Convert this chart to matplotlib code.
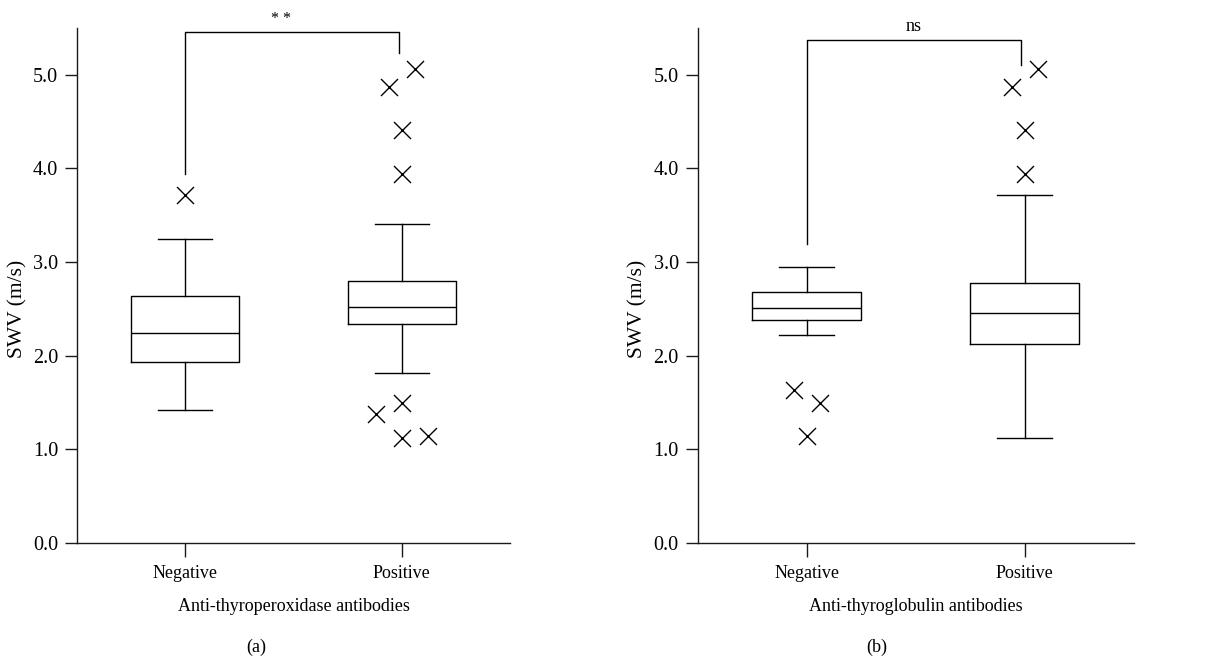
import matplotlib
matplotlib.use("Agg")
import matplotlib.pyplot as plt

plt.rcParams["font.family"] = ["Liberation Serif", "DejaVu Serif"]
plt.rcParams["font.size"] = 13

categories = ["Negative", "Positive"]

# panel (a): anti-thyroperoxidase antibodies
tpo_med = [2.24, 2.52]
tpo_q1 = [1.93, 2.34]
tpo_q3 = [2.64, 2.80]
tpo_whislo = [1.42, 1.81]
tpo_whishi = [3.25, 3.41]
tpo_out_x = [0, 1, 1, 1, 1, 1, 1, 1, 1]
tpo_out_dx = [0.0, 0.06, -0.06, 0.0, 0.0, -0.12, 0.0, 0.0, 0.12]
tpo_out_y = [3.72, 5.06, 4.87, 4.41, 3.94, 1.38, 1.49, 1.12, 1.14]

# panel (b): anti-thyroglobulin antibodies
tg_med = [2.51, 2.45]
tg_q1 = [2.38, 2.12]
tg_q3 = [2.68, 2.78]
tg_whislo = [2.22, 1.12]
tg_whishi = [2.95, 3.72]
tg_out_x = [0, 0, 0, 1, 1, 1, 1]
tg_out_dx = [-0.06, 0.06, 0.0, 0.06, -0.06, 0.0, 0.0]
tg_out_y = [1.63, 1.49, 1.14, 5.06, 4.87, 4.41, 3.94]

W, H = 1225, 659
fig = plt.figure(figsize=(W / 100, H / 100), dpi=100)


def draw_panel(ax, med, q1, q3, lo, hi, ox, odx, oy, xlabel, sig, sig_size, br_y, br_left, br_right, sig_x):
    stats = []
    for i in range(len(categories)):
        stats.append(dict(med=med[i], q1=q1[i], q3=q3[i], whislo=lo[i], whishi=hi[i], fliers=[]))
    lw = 1.0
    ax.bxp(stats, positions=range(len(categories)), widths=0.5, showfliers=False,
           boxprops=dict(color="black", linewidth=lw),
           medianprops=dict(color="black", linewidth=lw),
           whiskerprops=dict(color="black", linewidth=lw),
           capprops=dict(color="black", linewidth=lw),
           capwidths=0.25)
    ax.scatter([x + d for x, d in zip(ox, odx)], oy, marker="x", s=150,
               color="black", linewidths=1.0, zorder=3)

    # significance bracket
    ax.plot([0, 0, 0.985, 0.985], [br_left, br_y, br_y, br_right],
            color="black", linewidth=1.0, clip_on=False)
    ax.text(sig_x, br_y + 0.09, sig, ha="center", va="baseline", fontsize=sig_size)

    ax.set_xlim(-0.5, 1.5)
    ax.set_ylim(0, 5.5)
    ax.set_yticks([0, 1, 2, 3, 4, 5])
    ax.set_yticklabels([f"{v:.1f}" for v in [0, 1, 2, 3, 4, 5]])
    ax.set_xticks(range(len(categories)))
    ax.set_xticklabels(categories)
    ax.spines["top"].set_visible(False)
    ax.spines["right"].set_visible(False)
    for s in ("left", "bottom"):
        ax.spines[s].set_linewidth(1.0)
        ax.spines[s].set_color("#1a1a1a")
    ax.tick_params(axis="y", length=8.6, width=1.0, pad=5, color="#1a1a1a", labelsize=14.5)
    ax.tick_params(axis="x", length=10, width=1.0, pad=6, color="#1a1a1a", labelsize=13)
    ax.set_ylabel("SWV (m/s)", fontsize=15.5)
    ax.yaxis.set_label_coords(-0.115, 2.5 / 5.5)
    ax.set_xlabel(xlabel, fontsize=13, labelpad=11.5)


ax1 = fig.add_axes([77 / W, (H - 542.7) / H, 433 / W, (542.7 - 28) / H])
draw_panel(ax1, tpo_med, tpo_q1, tpo_q3, tpo_whislo, tpo_whishi,
           tpo_out_x, tpo_out_dx, tpo_out_y, "Anti-thyroperoxidase antibodies",
           "* *", 11.5, 5.46, 3.94, 5.23, 0.44)

ax2 = fig.add_axes([697.7 / W, (H - 542.7) / H, 436 / W, (542.7 - 28) / H])
draw_panel(ax2, tg_med, tg_q1, tg_q3, tg_whislo, tg_whishi,
           tg_out_x, tg_out_dx, tg_out_y, "Anti-thyroglobulin antibodies",
           "ns", 13, 5.375, 3.19, 5.10, 0.49)

fig.text(256 / W, 1 - 647 / H, "(a)", ha="center", va="center", fontsize=13)
fig.text(877 / W, 1 - 647 / H, "(b)", ha="center", va="center", fontsize=13)

fig.savefig("out.png", dpi=100)
